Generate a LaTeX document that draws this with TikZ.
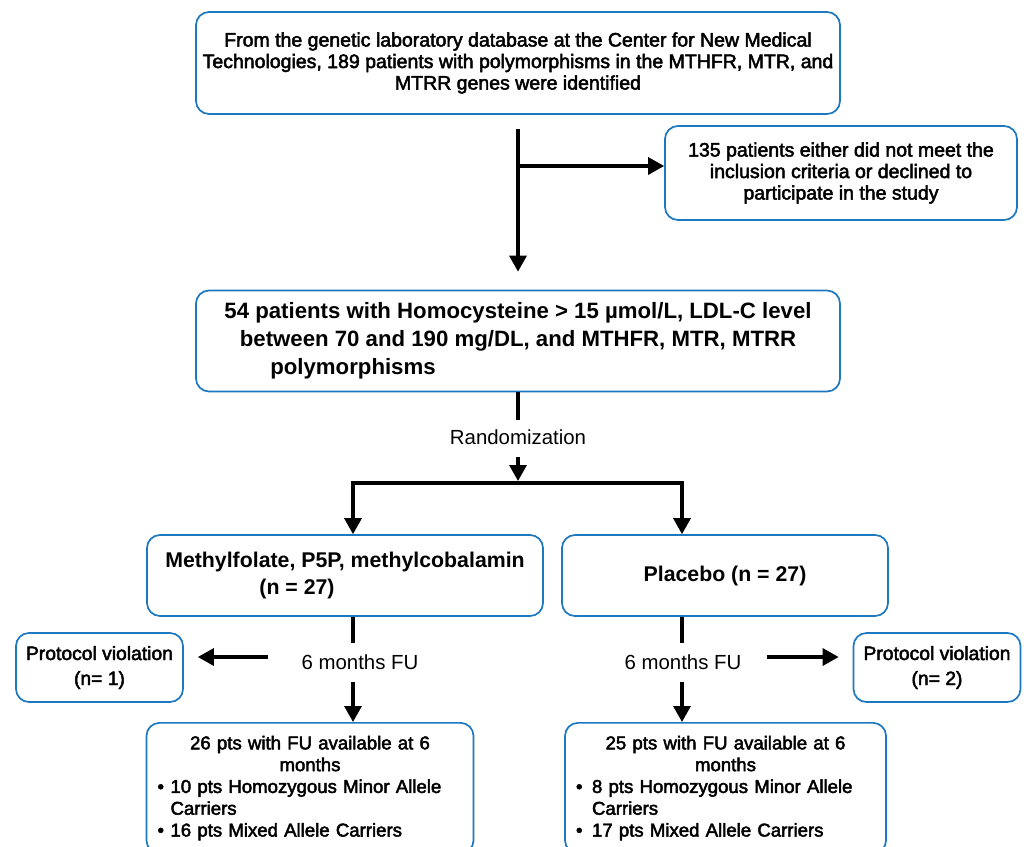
\documentclass[tikz,border=0pt]{standalone}
\usepackage{fontspec}
\setmainfont{Liberation Sans}
\newfontfamily\medfont{Liberation Sans}[FakeBold=2.5]
\newfontfamily\bldfont{Liberation Sans Bold}
\usetikzlibrary{arrows.meta}
\definecolor{boxblue}{HTML}{1C78C0}
\begin{document}
\begin{tikzpicture}[x=1pt,y=-1pt,
  box/.style={draw=boxblue,line width=1.7pt,rounded corners=13pt,align=center,inner sep=0pt},
  medtxt/.style={font={\medfont\fontsize{19.5}{21.5}\selectfont}},
  bottxt/.style={font={\medfont\fontsize{18.6}{21.8}\selectfont}},
  pvtxt/.style={font={\medfont\fontsize{19.3}{25}\selectfont}},
  bldtxt/.style={font={\bldfont\fontsize{22.2}{28}\selectfont}},
  armtxt/.style={font={\bldfont\fontsize{21.3}{27}\selectfont}},
  lbl/.style={font={\fontsize{20.4}{22}\selectfont},inner sep=0pt},
  conn/.style={line width=3.2pt},
  arr/.style={conn,-{Triangle[width=17pt,length=16pt]}},
]
\useasboundingbox (0,0) rectangle (1024,846);
\clip (0,0) rectangle (1024,846);

% boxes
\node[box,medtxt,minimum width=644pt,minimum height=102pt] (top) at (518,63)
  {From the genetic laboratory database at the Center for New Medical\\Technologies, 189 patients with polymorphisms in the MTHFR, MTR, and\\MTRR genes were identified};
\node[box,medtxt,minimum width=352pt,minimum height=94pt] (excl) at (841,173)
  {135 patients either did not meet the\\inclusion criteria or declined to\\participate in the study};
\node[box,bldtxt,minimum width=644pt,minimum height=101pt] (mid) at (518,341)
  {54 patients with Homocysteine > 15 µmol/L, LDL-C level\\between 70 and 190 mg/DL, and MTHFR, MTR, MTRR\\polymorphisms\rule{330pt}{0pt}};
\node[lbl] (rand) at (518,437) {Randomization};
\node[box,armtxt,minimum width=396pt,minimum height=81pt] (trt) at (345,575.5)
  {Methylfolate, P5P, methylcobalamin\\(n = 27)\rule{96pt}{0pt}};
\node[box,armtxt,minimum width=326pt,minimum height=81pt] (plc) at (725,575.5)
  {Placebo (n = 27)};
\node[lbl] (fu1) at (360,662) {6 months FU};
\node[lbl] (fu2) at (683,662) {6 months FU};
\node[box,pvtxt,minimum width=167pt,minimum height=69pt] (pv1) at (99.5,667.5)
  {Protocol violation\\(n= 1)};
\node[box,pvtxt,minimum width=167pt,minimum height=69pt] (pv2) at (937,667.5)
  {Protocol violation\\(n= 2)};
\node[box,bottxt,anchor=north,align=left,text width=305pt,inner xsep=11pt,inner ysep=13pt] (res1) at (310,722)
  {\makebox[305pt]{26 pts with FU available at 6}\\
   \makebox[305pt]{months}\\
   \makebox[13pt][l]{\textbullet}10 pts Homozygous Minor Allele\\
   \hspace*{13pt}Carriers\\
   \makebox[13pt][l]{\textbullet}16 pts Mixed Allele Carriers\\[20pt]};
\node[box,bottxt,anchor=north,align=left,text width=299pt,inner xsep=11pt,inner ysep=13pt] (res2) at (725.5,722)
  {\makebox[299pt]{25 pts with FU available at 6}\\
   \makebox[299pt]{months}\\
   \makebox[16pt][l]{\textbullet}8 pts Homozygous Minor Allele\\
   \hspace*{16pt}Carriers\\
   \makebox[16pt][l]{\textbullet}17 pts Mixed Allele Carriers\\[20pt]};

% free ends
\coordinate (r1) at (518,420);
\coordinate (r2) at (518,457);
\coordinate (split) at (518,481);
\coordinate (sl) at (353,483);
\coordinate (sr) at (682,483);
\coordinate (f1a) at (353,643);
\coordinate (f1b) at (353,682);
\coordinate (f1c) at (268,657);
\coordinate (f2a) at (682,643);
\coordinate (f2b) at (682,682);
\coordinate (f2c) at (767,657);

% connectors
\draw[arr] ([yshift=-14pt]top.south) -- ([yshift=18pt]mid.north);
\draw[arr] (top.south |- excl.west) ++(0,-7) -- ([yshift=7pt]excl.west);
\draw[conn] (mid.south) -- (r1);
\draw[arr] (r2) -- (split);
\draw[conn,line cap=rect] (sl) -- (sr);
\draw[arr] (sl) -- (sl |- trt.north);
\draw[arr] (sr) -- (sr |- plc.north);
\draw[conn] (f1a |- trt.south) -- (f1a);
\draw[arr] (f1b) -- (f1b |- res1.north);
\draw[arr,shorten >=14pt] (f1c) -- (f1c -| pv1.east);
\draw[conn] (f2a |- plc.south) -- (f2a);
\draw[arr] (f2b) -- (f2b |- res2.north);
\draw[arr,shorten >=14pt] (f2c) -- (f2c -| pv2.west);
\end{tikzpicture}
\end{document}
